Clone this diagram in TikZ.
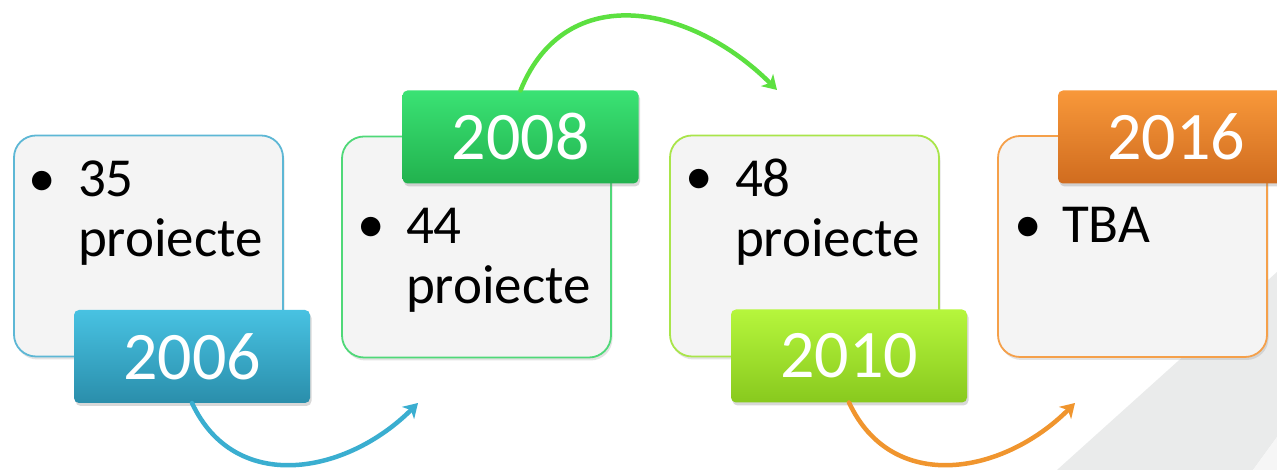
\documentclass[tikz,border=0pt]{standalone}
\usepackage{fontspec}
\setmainfont{Carlito}
\usetikzlibrary{arrows.meta,shadows}
\definecolor{cardfill}{HTML}{F4F4F4}
\definecolor{bandgray}{HTML}{EAEBEB}
\definecolor{cornergray}{HTML}{F6F6F6}
\definecolor{bluebd}{HTML}{5DB7D5}
\definecolor{bluetop}{HTML}{48C2E2}
\definecolor{bluebot}{HTML}{2A8EAB}
\definecolor{bluearr}{HTML}{3AAED0}
\definecolor{greenbd}{HTML}{4FD878}
\definecolor{greentop}{HTML}{3AE274}
\definecolor{greenbot}{HTML}{22B24E}
\definecolor{greenarr}{HTML}{5CE040}
\definecolor{limebd}{HTML}{A9E54A}
\definecolor{limetop}{HTML}{B6F63C}
\definecolor{limebot}{HTML}{88C91E}
\definecolor{orangebd}{HTML}{F5A04A}
\definecolor{orangetop}{HTML}{F8983A}
\definecolor{orangebot}{HTML}{D06C1F}
\definecolor{orangearr}{HTML}{F0952E}
\begin{document}
\begin{tikzpicture}[x=1pt,y=1pt,
  card/.style={draw=#1, line width=1.8pt, fill=cardfill, rounded corners=22pt,
    minimum width=269pt, minimum height=221pt, inner sep=0pt, outer sep=0pt,
    drop shadow={opacity=0.22, shadow xshift=1.5pt, shadow yshift=-3pt}},
  yearlabel/.style 2 args={rounded corners=5pt, top color=#1, bottom color=#2,
    draw=none, minimum width=236pt, minimum height=93pt, inner sep=0pt, outer sep=0pt,
    text=white, font=\fontsize{68}{68}\selectfont,
    drop shadow={opacity=0.3, shadow xshift=1.5pt, shadow yshift=-3pt}},
  bodytext/.style={anchor=base west, align=left, inner sep=0pt, outer sep=0pt,
    font=\fontsize{55}{60}\selectfont, text=black},
  bulletmark/.style={anchor=base, inner sep=0pt, outer sep=0pt,
    font=\fontsize{55}{60}\selectfont, text=black},
  turn/.style={draw=#1, line width=4.5pt, line cap=round,
    -{Stealth[length=14pt, width=17pt, inset=4pt]}}
]
\useasboundingbox (0,0) rectangle (1277,470);
\clip (0,0) rectangle (1277,470);
% background
\fill[white] (0,0) rectangle (1277,470);
\fill[bandgray] (1057,0) -- (1277,198) -- (1277,33) -- (1253,0) -- cycle;
\fill[cornergray] (1253,0) -- (1277,33) -- (1277,0) -- cycle;

% cards and year labels
\node[card=bluebd] (c1) at (148.5,224) {};
\node[bulletmark] (b1) at (42,273) {•};
\node[bodytext] (t1) at (78,213) {35\\proiecte};
\node[yearlabel={bluetop}{bluebot}] (y06) at (192,113.5) {2006};

\node[card=greenbd] (c2) at (476.5,223) {};
\node[bulletmark] (b2) at (371,227) {•};
\node[bodytext] (t2) at (406,166) {44\\proiecte};
\node[yearlabel={greentop}{greenbot}] (y08) at (520.5,333) {2008};

\node[card=limebd] (c3) at (804.5,224) {};
\node[bulletmark] (b3) at (699,275) {•};
\node[bodytext] (t3) at (735,213) {48\\proiecte};
\node[yearlabel={limetop}{limebot}] (y10) at (849,114) {2010};

\node[card=orangebd] (c4) at (1132.5,223.5) {};
\node[bulletmark] (b4) at (1028,227) {•};
\node[bodytext] (t4) at (1062,227) {TBA};
\node[yearlabel={orangetop}{orangebot}] (y16) at (1176,333) {2016};

% arrow end points
\coordinate (e1) at (418,67);
\coordinate (e2) at (777,380);
\coordinate (e3) at (1075,67);

\draw[turn=bluearr] (y06.south) to[out=-65, in=-135, looseness=1.15] (e1);
\draw[turn=greenarr] (y08.north) to[out=68, in=135, looseness=1.2] (e2);
\draw[turn=orangearr] (y10.south) to[out=-65, in=-135, looseness=1.15] (e3);
\end{tikzpicture}
\end{document}
